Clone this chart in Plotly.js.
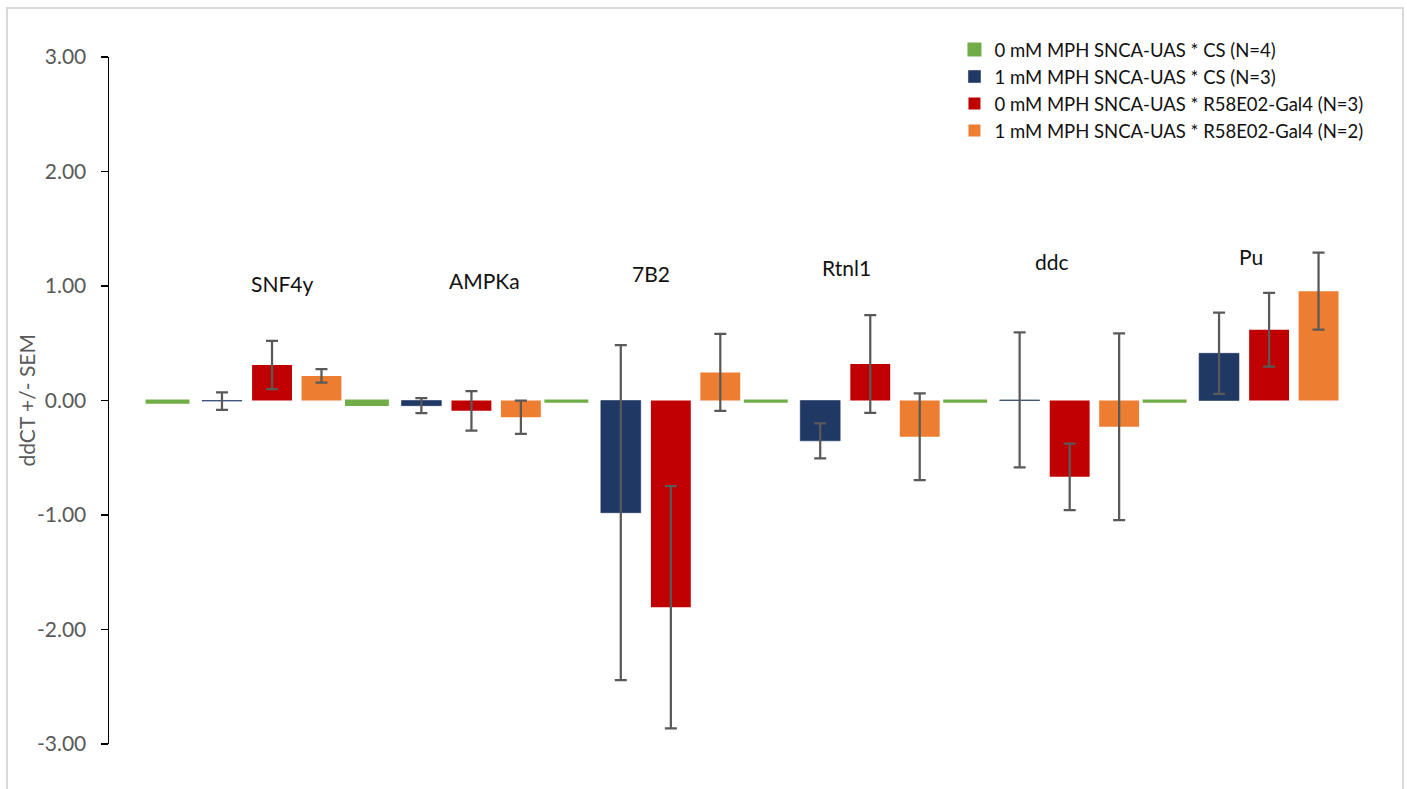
<!DOCTYPE html>
<html>
<head>
<meta charset="utf-8">
<script src="https://cdn.plot.ly/plotly-3.0.1.min.js"></script>
<style>
  html, body { margin: 0; padding: 0; background: #ffffff; }
  #chart { width: 1407px; height: 789px; }
</style>
</head>
<body>
<div id="chart"></div>
<script>
// ---------- data ----------
const categories = ['SNF4y', 'AMPKa', '7B2', 'Rtnl1', 'ddc', 'Pu'];

const seriesNames = [
  '0 mM MPH SNCA-UAS * CS (N=4)',
  '1 mM MPH SNCA-UAS * CS (N=3)',
  '0 mM MPH SNCA-UAS * R58E02-Gal4 (N=3)',
  '1 mM MPH SNCA-UAS * R58E02-Gal4 (N=2)'
];

const ctrl0mM      = [-0.02, -0.04, -0.01, -0.01, -0.01, -0.01];
const ctrl1mM      = [-0.005, -0.045, -0.98, -0.352, 0.005, 0.412];
const ctrl1mMErr   = [0.077, 0.066, 1.463, 0.153, 0.59, 0.355];
const r58e02_0mM    = [0.31, -0.09, -1.805, 0.318, -0.667, 0.618];
const r58e02_0mMErr = [0.21, 0.172, 1.058, 0.427, 0.29, 0.323];
const r58e02_1mM    = [0.215, -0.146, 0.245, -0.316, -0.229, 0.955];
const r58e02_1mMErr = [0.058, 0.146, 0.336, 0.379, 0.816, 0.337];

const yTickVals   = [-3, -2, -1, 0, 1, 2, 3];
const yTickLabels = ['-3.00', '-2.00', '-1.00', '0.00', '1.00', '2.00', '3.00'];
const yAxisTitle  = 'ddCT +/- SEM';

// ---------- styles ----------
const colors = ['#70ad47', '#203864', '#c00000', '#ed7d31'];
const FONT = 'Lato, "Open Sans", sans-serif';

const errStyle = (arr) => ({
  type: 'data', array: arr, visible: true,
  color: '#595959', thickness: 2.25, width: 6
});

const traces = [
  { name: seriesNames[0], y: ctrl0mM, color: colors[0], offset: -0.486, width: 0.21, line: 2 },
  { name: seriesNames[1], y: ctrl1mM, err: ctrl1mMErr, color: colors[1], offset: -0.208, width: 0.2, line: 0.6 },
  { name: seriesNames[2], y: r58e02_0mM, err: r58e02_0mMErr, color: colors[2], offset: 0.043, width: 0.2, line: 0 },
  { name: seriesNames[3], y: r58e02_1mM, err: r58e02_1mMErr, color: colors[3], offset: 0.291, width: 0.2, line: 0 }
].map(t => {
  const tr = {
    type: 'bar',
    name: t.name,
    x: categories,
    y: t.y,
    offset: t.offset,
    width: t.width,
    marker: { color: t.color, line: { color: t.color, width: t.line } },
    hoverinfo: 'name+x+y'
  };
  if (t.err) tr.error_y = errStyle(t.err);
  return tr;
});

// category labels placed inside the plot (pixel shifts from category centre, y in data units)
const labelShiftPx = [38, 42, 9, 5, 11, 10];
const labelY = [1.02, 1.05, 1.105, 1.165, 1.21, 1.262];
const annotations = categories.map((c, i) => ({
  x: c, xref: 'x', y: labelY[i], yref: 'y',
  xshift: labelShiftPx[i],
  text: c, showarrow: false,
  xanchor: 'center', yanchor: 'middle',
  font: { family: FONT, size: 21, color: '#111111' }
}));
// y-axis title
annotations.push({
  xref: 'paper', yref: 'paper', x: -0.0651, y: 0.5,
  xanchor: 'center', yanchor: 'middle', textangle: -90,
  text: yAxisTitle, showarrow: false,
  font: { family: FONT, size: 21, color: '#595959' }
});

const layout = {
  width: 1407, height: 789,
  margin: { l: 109, r: 38, t: 57, b: 45, pad: 0 },
  paper_bgcolor: '#ffffff', plot_bgcolor: 'rgba(0,0,0,0)',
  font: { family: FONT, color: '#595959' },
  barmode: 'overlay',
  showlegend: true,
  legend: {
    x: 0.671, xanchor: 'left', y: 1.038, yanchor: 'top',
    font: { family: FONT, size: 18.5, color: '#111111' },
    bgcolor: 'rgba(0,0,0,0)', traceorder: 'normal'
  },
  xaxis: {
    type: 'category',
    range: [-0.6745, 5.644],
    visible: false,
    showgrid: false, zeroline: false
  },
  yaxis: {
    range: [-3, 3],
    tickmode: 'array',
    tickvals: yTickVals,
    ticktext: yTickLabels,
    ticks: 'outside', ticklen: 7, tickwidth: 1.5, tickcolor: '#000000',
    showline: true, linecolor: '#000000', linewidth: 1.5,
    showgrid: false, zeroline: false,
    ticklabelstandoff: 10,
    tickfont: { family: FONT, size: 21, color: '#595959' }
  },
  shapes: [{
    type: 'rect', xref: 'paper', yref: 'paper',
    x0: -0.081, x1: 1.027, y0: -0.0888, y1: 1.0713,
    line: { color: '#d9d9d9', width: 2 }, fillcolor: 'rgba(0,0,0,0)', layer: 'below'
  }],
  annotations: annotations
};

Plotly.newPlot('chart', traces, layout, { displayModeBar: false, staticPlot: true });
</script>
</body>
</html>
